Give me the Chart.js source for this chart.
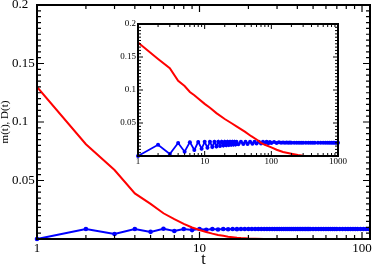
<!DOCTYPE html>
<html>
<head>
<meta charset="utf-8">
<script src="https://cdn.jsdelivr.net/npm/chart.js@4/dist/chart.umd.min.js"></script>
<style>
  body { margin: 0; background: #fff; }
  #wrap { position: relative; width: 374px; height: 268px; }
  #wrap canvas { position: absolute; left: 0; top: 0; }
</style>
</head>
<body>
<div id="wrap">
  <canvas id="main" width="374" height="268"></canvas>
  <canvas id="inset" width="374" height="268"></canvas>
</div>
<script>
'use strict';

// MAIN PLOT DATA
var mainT = [1, 2, 3, 4, 5, 6, 7, 8, 9, 10, 11, 12, 13, 14, 15, 16, 17, 18, 19, 20,
  21, 22, 23, 24, 25, 26, 27, 28, 29, 30, 31, 32, 33, 34, 35, 36, 37, 38, 39, 40,
  41, 42, 43, 44, 45, 46, 47, 48,
  50, 52, 54, 56, 58, 60, 62, 64, 66, 68, 70,
  73, 76, 79, 82, 85, 88, 91, 94,
  98, 102, 106, 110];
var mainBlue = [0, 0.0085, 0.0043, 0.0085, 0.0061, 0.0087, 0.0069, 0.0086, 0.0076, 0.0086,
  0.0079, 0.0086, 0.0081, 0.0086, 0.0083, 0.0086, 0.0084, 0.0086, 0.0085, 0.0086,
  0.0086, 0.0086, 0.0086, 0.0086, 0.0086, 0.0086, 0.0086, 0.0086, 0.0086, 0.0086,
  0.0086, 0.0086, 0.0086, 0.0086, 0.0086, 0.0086, 0.0086, 0.0086, 0.0086, 0.0086,
  0.0086, 0.0086, 0.0086, 0.0086, 0.0086, 0.0086, 0.0086, 0.0086,
  0.0086, 0.0086, 0.0086, 0.0086, 0.0086, 0.0086, 0.0086, 0.0086, 0.0086, 0.0086, 0.0086,
  0.0086, 0.0086, 0.0086, 0.0086, 0.0086, 0.0086, 0.0086, 0.0086,
  0.0086, 0.0086, 0.0086, 0.0086];
var mainRedT = [1, 2, 3, 4, 5, 6, 7, 8, 9, 10, 11, 12, 13, 14, 15, 16, 17, 18, 19, 20,
  22, 25, 30, 40, 60, 112];
var mainRed = [0.130, 0.081, 0.059, 0.039, 0.030, 0.022, 0.017, 0.013, 0.0098, 0.0077,
  0.0060, 0.0046, 0.0035, 0.0027, 0.0020, 0.0015, 0.0011, 0.0008, 0.0006, 0.0004,
  0.0002, 0.0001, 0, 0, 0, 0];
var mainXLabels = [1, 10, 100];
var mainYLabels = [0.05, 0.1, 0.15, 0.2];

// INSET DATA
var insetT = [1, 2, 3, 4, 5, 6, 7, 8, 9, 10, 11, 12, 13, 14, 15, 16, 17, 18, 19, 20,
  21, 22, 23, 24, 25, 26, 27, 28, 29, 30,
  32, 35, 38, 41, 44, 48, 52, 56, 60, 65, 70, 75, 80, 85, 90, 95, 100,
  110, 120, 130, 140, 150, 160, 170, 180, 190, 200, 220, 240, 260, 280, 300,
  330, 360, 390, 420, 450, 500, 550, 600, 650, 700, 750, 800, 850, 900, 950, 1000];
var insetBlue = [0, 0.0170, 0.0030, 0.0197, 0.0065, 0.0210, 0.0090, 0.0214, 0.0110, 0.0215,
  0.0125, 0.0216, 0.0135, 0.0216, 0.0145, 0.0216, 0.0152, 0.0216, 0.0158, 0.0216,
  0.0163, 0.0216, 0.0167, 0.0216, 0.0170, 0.0216, 0.0173, 0.0216, 0.0176, 0.0216,
  0.0178, 0.0216, 0.0180, 0.0216, 0.0183, 0.0216, 0.0185, 0.0217, 0.0188, 0.0217,
  0.0190, 0.0217, 0.0192, 0.0216, 0.0194, 0.0214, 0.0196,
  0.0212, 0.0198, 0.0209, 0.0199, 0.0206, 0.0200, 0.0204, 0.0200, 0.0203, 0.0201,
  0.0202, 0.0201, 0.0201, 0.0201, 0.0201,
  0.0200, 0.0200, 0.0200, 0.0200, 0.0200, 0.0200, 0.0200, 0.0200, 0.0200, 0.0200,
  0.0200, 0.0200, 0.0200, 0.0200, 0.0200, 0.0200];
var insetRedT = [1, 2, 3, 4, 5, 6, 7, 8, 10, 12, 15, 20, 25, 30, 40, 50, 60, 70, 80,
  100, 120, 150, 200, 250, 300, 350, 1000];
var insetRed = [0.172, 0.147, 0.133, 0.114, 0.106, 0.097, 0.092, 0.087, 0.079, 0.073,
  0.065, 0.056, 0.050, 0.045, 0.037, 0.030, 0.025, 0.020, 0.017, 0.013,
  0.0095, 0.006, 0.0035, 0.0015, 0.0005, 0, 0];
var insetXLabels = [1, 10, 100, 1000];
var insetYLabels = [0.05, 0.1, 0.15, 0.2];

var serif = "'Liberation Serif', 'DejaVu Serif', serif";

//PAIR UP X AND Y ARRAYS
function toPoints(xs, ys) {
  var out = [];
  for (var i = 0; i < xs.length; i++) {
    out.push({ x: xs[i], y: ys[i] });
  }
  return out;
}

//MINOR TICK POSITIONS ON A LOG AXIS
function logMinors(min, max) {
  var out = [];
  for (var d = 1; d <= max; d *= 10) {
    for (var k = 2; k <= 9; k++) {
      if (k * d > min && k * d < max) out.push(k * d);
    }
  }
  return out;
}

//MINOR TICK POSITIONS ON THE Y AXIS (EVERY 0.005)
function linMinors() {
  var out = [];
  for (var i = 1; i < 40; i++) {
    if (i % 10 !== 0) out.push(i * 0.005);
  }
  return out;
}

function yLabel(list) {
  return function (v) {
    var r = parseFloat(v.toFixed(3));
    return list.indexOf(r) >= 0 ? String(r) : '';
  };
}

function xLabel(list) {
  return function (v) {
    return list.indexOf(v) >= 0 ? String(v) : '';
  };
}

// FRAME WITH INWARD TICKS ON ALL FOUR SIDES
var frameTicks = {
  id: 'frameTicks',
  afterDatasetsDraw: function (chart, args, o) {
    var ctx = chart.ctx;
    var a = chart.chartArea;
    var xs = chart.scales.x;
    var ys = chart.scales.y;
    ctx.save();
    ctx.strokeStyle = '#000';
    ctx.lineWidth = o.tickWidth;
    ctx.beginPath();
    function xTick(v, len) {
      var p = xs.getPixelForValue(v);
      ctx.moveTo(p, a.bottom); ctx.lineTo(p, a.bottom - len);
      ctx.moveTo(p, a.top); ctx.lineTo(p, a.top + len);
    }
    function yTick(v, len) {
      var p = ys.getPixelForValue(v);
      ctx.moveTo(a.left, p); ctx.lineTo(a.left + len, p);
      ctx.moveTo(a.right, p); ctx.lineTo(a.right - len, p);
    }
    o.xMajor.forEach(function (v) { xTick(v, o.major); });
    o.xMinor.forEach(function (v) { xTick(v, o.minor); });
    o.yMajor.forEach(function (v) { yTick(v, o.major); });
    o.yMinor.forEach(function (v) { yTick(v, o.minor); });
    ctx.stroke();
    ctx.lineWidth = o.frameWidth;
    ctx.strokeRect(a.left, a.top, a.right - a.left, a.bottom - a.top);
    ctx.restore();
  }
};

// MAIN CHART
new Chart(document.getElementById('main'), {
  type: 'line',
  data: {
    datasets: [{
      data: toPoints(mainRedT, mainRed),
      borderColor: '#ff0000',
      borderWidth: 2,
      pointRadius: 0,
      tension: 0
    }, {
      data: toPoints(mainT, mainBlue),
      borderColor: '#0000ff',
      backgroundColor: '#0000ff',
      borderWidth: 2,
      pointRadius: 2.3,
      pointBorderWidth: 0,
      pointBackgroundColor: '#0000ff',
      tension: 0,
      clip: 4
    }]
  },
  options: {
    responsive: false,
    animation: false,
    devicePixelRatio: 1,
    layout: { padding: { left: 12, right: 4, top: 5, bottom: 0 } },
    plugins: {
      legend: { display: false },
      tooltip: { enabled: false },
      frameTicks: {
        xMajor: mainXLabels, xMinor: logMinors(1, 112),
        yMajor: mainYLabels, yMinor: linMinors(),
        major: 7, minor: 4, tickWidth: 1.2, frameWidth: 2
      }
    },
    scales: {
      x: {
        type: 'logarithmic', min: 1, max: 112,
        grid: { display: false, drawTicks: false },
        border: { display: false },
        ticks: { autoSkip: false, maxRotation: 0, minRotation: 0, padding: 2, color: '#000',
          font: { family: serif, size: 13 }, callback: xLabel(mainXLabels) },
        title: { display: true, text: 't', color: '#000', padding: 0,
          font: { family: serif, size: 16, lineHeight: 1 } },
        afterFit: function (s) { s.height = 29; s.paddingLeft = 0; s.paddingRight = 0; }
      },
      y: {
        min: 0, max: 0.2,
        grid: { display: false, drawTicks: false },
        border: { display: false },
        ticks: { stepSize: 0.05, crossAlign: 'far', padding: 2, color: '#000',
          font: { family: serif, size: 13 }, callback: yLabel(mainYLabels) },
        title: { display: true, text: 'm(t), D(t)', color: '#000', padding: { top: -12, bottom: 0 },
          font: { family: serif, size: 11, lineHeight: 1 } },
        afterFit: function (s) { s.width = 25; s.paddingTop = 0; s.paddingBottom = 0; }
      }
    }
  },
  plugins: [frameTicks]
});

// INSET CHART
new Chart(document.getElementById('inset'), {
  type: 'line',
  data: {
    datasets: [{
      data: toPoints(insetRedT, insetRed),
      borderColor: '#ff0000',
      borderWidth: 2,
      pointRadius: 0,
      tension: 0
    }, {
      data: toPoints(insetT, insetBlue),
      borderColor: '#0000ff',
      backgroundColor: '#0000ff',
      borderWidth: 1.8,
      pointRadius: 2,
      pointBorderWidth: 0,
      pointBackgroundColor: '#0000ff',
      tension: 0,
      clip: 4
    }]
  },
  options: {
    responsive: false,
    animation: false,
    devicePixelRatio: 1,
    layout: { padding: { left: 118, right: 36, top: 24, bottom: 98 } },
    plugins: {
      legend: { display: false },
      tooltip: { enabled: false },
      frameTicks: {
        xMajor: insetXLabels, xMinor: logMinors(1, 1000),
        yMajor: insetYLabels, yMinor: linMinors(),
        major: 5, minor: 3, tickWidth: 1, frameWidth: 2
      }
    },
    scales: {
      x: {
        type: 'logarithmic', min: 1, max: 1000,
        grid: { display: false, drawTicks: false },
        border: { display: false },
        ticks: { autoSkip: false, maxRotation: 0, minRotation: 0, padding: 0, color: '#000',
          font: { family: serif, size: 9 }, callback: xLabel(insetXLabels) },
        afterFit: function (s) { s.height = 14; s.paddingLeft = 0; s.paddingRight = 0; }
      },
      y: {
        min: 0, max: 0.2,
        grid: { display: false, drawTicks: false },
        border: { display: false },
        ticks: { stepSize: 0.05, padding: 2, color: '#000',
          font: { family: serif, size: 9 }, callback: yLabel(insetYLabels) },
        afterFit: function (s) { s.width = 20; s.paddingTop = 0; s.paddingBottom = 0; }
      }
    }
  },
  plugins: [frameTicks]
});
</script>
</body>
</html>
